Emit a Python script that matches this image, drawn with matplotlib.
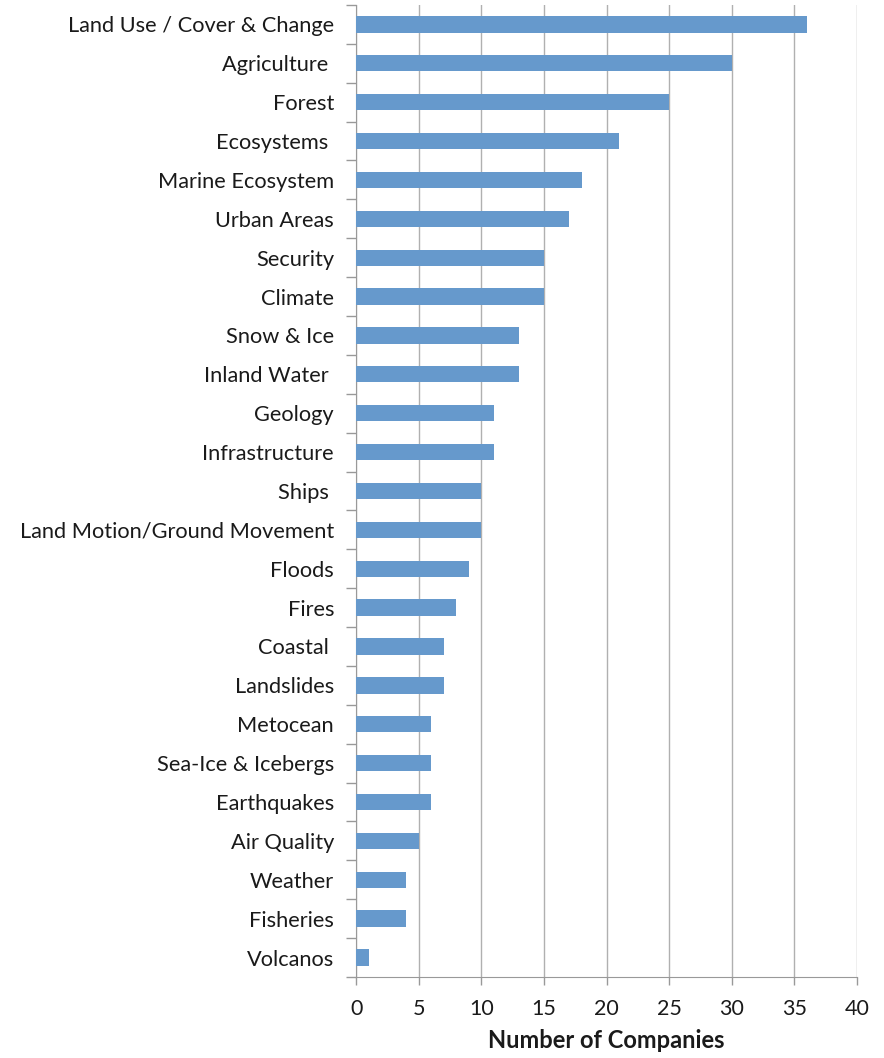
import matplotlib.pyplot as plt

# categories top to bottom, and number of companies in each
categories = ['Land Use / Cover & Change', 'Agriculture ', 'Forest', 'Ecosystems ',
              'Marine Ecosystem', 'Urban Areas', 'Security', 'Climate', 'Snow & Ice',
              'Inland Water ', 'Geology', 'Infrastructure', 'Ships ',
              'Land Motion/Ground Movement', 'Floods', 'Fires', 'Coastal ', 'Landslides',
              'Metocean', 'Sea-Ice & Icebergs', 'Earthquakes', 'Air Quality', 'Weather',
              'Fisheries', 'Volcanos']
companies = [36, 30, 25, 21, 18, 17, 15, 15, 13, 13, 11, 11, 10, 10, 9, 8, 7, 7,
             6, 6, 6, 5, 4, 4, 1]
x_ticks = [0, 5, 10, 15, 20, 25, 30, 35, 40]

plt.rcParams['font.family'] = ['Lato', 'DejaVu Sans']

fig = plt.figure(figsize=(8.84, 10.58), dpi=100)
ax = fig.add_axes([0.403, 0.0766, 0.5665, 0.9187])

n = len(categories)
pos = list(range(n))
ax.barh(pos, companies, height=0.42, color='#6699cc', zorder=3)

ax.set_ylim(n - 0.5, -0.5)
ax.set_xlim(0, 40)
ax.set_xticks(x_ticks)
ax.set_xticklabels([str(t) for t in x_ticks], fontsize=15.5, color='#1a1a1a')
ax.set_yticks(pos)
ax.set_yticklabels(categories, fontsize=15.7, color='#1a1a1a')
ax.tick_params(axis='y', length=0, pad=16)
# tick marks between categories
ax.set_yticks([i - 0.5 for i in range(n + 1)], minor=True)
ax.tick_params(axis='y', which='minor', length=7, color='#999999', width=1)
ax.tick_params(axis='x', length=6, color='#999999', width=1, pad=10)

ax.grid(axis='x', color='#b0b0b0', linewidth=1, zorder=0)
for side in ['top', 'right']:
    ax.spines[side].set_visible(False)
for side in ['left', 'bottom']:
    ax.spines[side].set_color('#999999')

ax.set_xlabel('Number of Companies', fontsize=17, fontweight='bold', color='#1a1a1a', labelpad=7)

plt.savefig('out.png', dpi=100)
